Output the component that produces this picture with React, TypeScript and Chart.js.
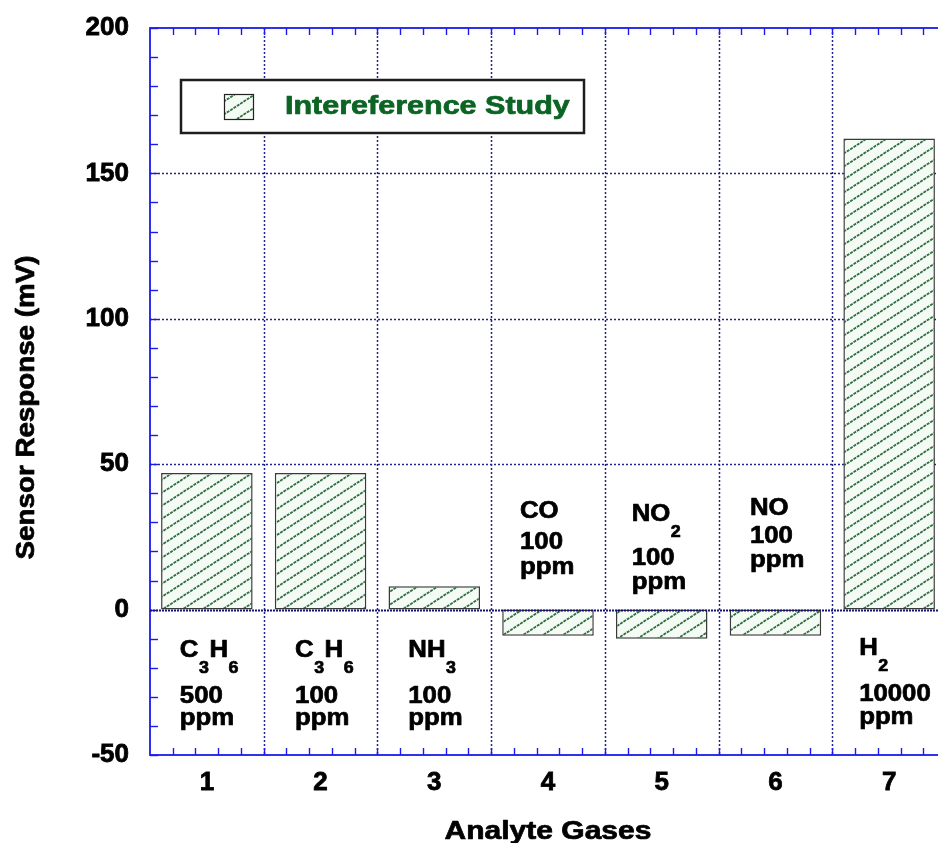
import React, { useEffect, useRef } from "react";
import { Chart, registerables } from "chart.js";

Chart.register(...registerables);

// ---------- data ----------
const categories = ["1", "2", "3", "4", "5", "6", "7"];
const responses = [47, 47, 8, -9, -10, -9, 162];
const yMin = -50;
const yMax = 200;
const yStep = 50;
const yMinorStep = 10;
const seriesName = "Intereference Study";
const xTitle = "Analyte Gases";
const yTitle = "Sensor Response (mV)";
// chemical formula parts: [main text, subscript]
const gasFormulas: [string, string][][] = [
  [["C", "3"], ["H", "6"]],
  [["C", "3"], ["H", "6"]],
  [["NH", "3"]],
  [["CO", ""]],
  [["NO", "2"]],
  [["NO", ""]],
  [["H", "2"]],
];
const gasConcentrations = ["500", "100", "100", "100", "100", "100", "10000"];
const concUnit = "ppm";

// ---------- styles / layout ----------
const FONT = '"Liberation Sans", Arial, sans-serif';
const AXIS_BLUE = "#1a1af0";
const GRID_NAVY = "#23238c";
// per category: x offset of text from category centre (px), baselines relative to zero line (px)
const ANN_LAYOUT = [
  { dx: -27, y: [47.5, 93.5, 115.5] },
  { dx: -25.5, y: [47.5, 93.5, 115.5] },
  { dx: -26, y: [47.5, 93.5, 115.5] },
  { dx: -28, y: [-92, -61, -36] },
  { dx: -30, y: [-89, -45, -21] },
  { dx: -25.5, y: [-95, -67, -43] },
  { dx: -30, y: [45.5, 91.5, 114] },
];

function makePattern(ctx: CanvasRenderingContext2D): CanvasPattern | string {
  const w = 20;
  const h = 13;
  const c = document.createElement("canvas");
  c.width = w;
  c.height = h;
  const g = c.getContext("2d");
  if (!g) return "#f4faf4";
  g.fillStyle = "#f4faf4";
  g.fillRect(0, 0, w, h);
  g.strokeStyle = "#336d42";
  g.lineWidth = 1.8;
  g.setLineDash([3, 1]);
  for (const k of [-1, 0, 1]) {
    g.beginPath();
    g.moveTo(-w, 2 * h + k * h);
    g.lineTo(2 * w, -h + k * h);
    g.stroke();
  }
  return ctx.createPattern(c, "repeat") || "#f4faf4";
}

function line(ctx: CanvasRenderingContext2D, x1: number, y1: number, x2: number, y2: number) {
  ctx.beginPath();
  ctx.moveTo(x1, y1);
  ctx.lineTo(x2, y2);
  ctx.stroke();
}

// draws bold text stretched along its direction by sx; returns drawn width
function stretchText(
  ctx: CanvasRenderingContext2D,
  text: string,
  x: number,
  y: number,
  size: number,
  sx: number,
  align: "left" | "center" = "left"
): number {
  ctx.save();
  ctx.font = `bold ${size}px ${FONT}`;
  const w = ctx.measureText(text).width * sx;
  const left = align === "center" ? x - w / 2 : x;
  ctx.translate(left, y);
  ctx.scale(sx, 1);
  ctx.textAlign = "left";
  ctx.textBaseline = "alphabetic";
  ctx.strokeStyle = ctx.fillStyle as string;
  ctx.lineWidth = 0.7;
  ctx.lineJoin = "round";
  ctx.strokeText(text, 0, 0);
  ctx.fillText(text, 0, 0);
  ctx.restore();
  return w;
}

const framePlugin = {
  id: "framePlugin",
  beforeDatasetsDraw(chart: any) {
    const { ctx, chartArea: a, scales } = chart;
    const x = scales.x;
    const y = scales.y;
    ctx.save();
    // dotted grid
    ctx.strokeStyle = GRID_NAVY;
    ctx.lineWidth = 1.5;
    ctx.setLineDash([2, 2]);
    for (let i = 1; i < categories.length; i++) {
      const px = Math.round((x.getPixelForValue(i - 1) + x.getPixelForValue(i)) / 2) + 0.5;
      line(ctx, px, a.top, px, a.bottom);
    }
    for (let v = yMin + yStep; v < yMax; v += yStep) {
      if (v === 0) continue;
      const py = Math.round(y.getPixelForValue(v)) + 0.5;
      line(ctx, a.left, py, a.right, py);
    }
    ctx.setLineDash([]);
    // frame
    ctx.strokeStyle = AXIS_BLUE;
    ctx.lineWidth = 1.8;
    ctx.strokeRect(a.left, a.top, a.right - a.left, a.bottom - a.top);
    // minor ticks on y
    ctx.lineWidth = 1.4;
    for (let v = yMin; v <= yMax; v += yMinorStep) {
      const py = Math.round(y.getPixelForValue(v)) + 0.5;
      line(ctx, a.left, py, a.left + 8, py);
      line(ctx, a.right, py, a.right - 8, py);
    }
    // minor ticks on x (top & bottom)
    const cw = x.getPixelForValue(1) - x.getPixelForValue(0);
    for (let k = 1; k < categories.length * 5; k++) {
      const px = Math.round(a.left + k * cw * 0.2) + 0.5;
      line(ctx, px, a.top, px, a.top + 7);
      line(ctx, px, a.bottom, px, a.bottom - 7);
    }
    ctx.restore();
  },
  afterDatasetsDraw(chart: any) {
    const { ctx, chartArea: a, scales } = chart;
    const x = scales.x;
    const y = scales.y;
    const y0 = y.getPixelForValue(0);
    ctx.save();
    // zero line
    ctx.strokeStyle = "#14146e";
    ctx.lineWidth = 2;
    ctx.setLineDash([2, 1]);
    line(ctx, a.left, Math.round(y0) + 0.5, a.right, Math.round(y0) + 0.5);
    ctx.setLineDash([]);

    // annotations
    ctx.fillStyle = "#000";
    categories.forEach((_, i) => {
      const lay = ANN_LAYOUT[i];
      const lx = x.getPixelForValue(i) + lay.dx;
      let cx = lx;
      const b0 = y0 + lay.y[0];
      for (const [main, sub] of gasFormulas[i]) {
        cx += stretchText(ctx, main, cx, b0, 23, 1.12);
        if (sub) {
          const sw = stretchText(ctx, sub, cx + 0.5, b0 + 16, 17, 1.05);
          cx += 0.5 + sw + 0.5;
        }
      }
      stretchText(ctx, gasConcentrations[i], lx, y0 + lay.y[1], 23, 1.12);
      stretchText(ctx, concUnit, lx, y0 + lay.y[2], 23, 1.12);
    });

    // legend box
    const bx = 181, by = 80, bw = 403, bh = 53;
    ctx.fillStyle = "#ffffff";
    ctx.fillRect(bx, by, bw, bh);
    ctx.strokeStyle = "#1e1e1e";
    ctx.lineWidth = 2.5;
    ctx.strokeRect(bx, by, bw, bh);
    const ds = chart.data.datasets[0];
    ctx.fillStyle = ds.backgroundColor;
    ctx.fillRect(224, 94, 29, 25);
    ctx.strokeStyle = "#222";
    ctx.lineWidth = 1.2;
    ctx.strokeRect(224.5, 94.5, 29, 25);
    ctx.fillStyle = "#0b6423";
    stretchText(ctx, ds.label, 285, 114, 25, 1.22);

    ctx.restore();
  },
  afterDraw(chart: any) {
    const { ctx, chartArea: a } = chart;
    ctx.save();
    ctx.fillStyle = "#000";
    stretchText(ctx, xTitle, (a.left + a.right) / 2, 839, 25, 1.2, "center");
    ctx.translate(33.5, 407.5);
    ctx.rotate(-Math.PI / 2);
    stretchText(ctx, yTitle, 0, 0, 25, 1.11, "center");
    ctx.restore();
  },
};

export default function App() {
  const ref = useRef<HTMLCanvasElement | null>(null);
  useEffect(() => {
    const canvas = ref.current;
    if (!canvas) return;
    const ctx = canvas.getContext("2d");
    if (!ctx) return;
    const pattern = makePattern(ctx);
    const chart = new Chart(canvas, {
      type: "bar",
      data: {
        labels: categories,
        datasets: [
          {
            label: seriesName,
            data: responses,
            backgroundColor: pattern as any,
            borderColor: "#3a3a3a",
            borderWidth: 1.5,
            borderSkipped: false,
            barPercentage: 0.805,
            categoryPercentage: 1,
          },
        ],
      },
      options: {
        responsive: false,
        animation: false,
        events: [],
        layout: { padding: { top: 28, right: 14, left: 0, bottom: 0 } },
        plugins: { legend: { display: false }, tooltip: { enabled: false } },
        scales: {
          x: {
            type: "category",
            offset: true,
            grid: { display: false, drawTicks: false },
            border: { display: false },
            ticks: {
              color: "#000",
              font: { family: FONT, size: 26, weight: "bold" },
              textStrokeColor: "#000",
              textStrokeWidth: 0.8,
              padding: 12,
              maxRotation: 0,
              autoSkip: false,
            },
            afterFit(s: any) {
              s.height = 88;
              s.paddingLeft = 0;
              s.paddingRight = 0;
            },
          },
          y: {
            min: yMin,
            max: yMax,
            grid: { display: false, drawTicks: false },
            border: { display: false },
            ticks: {
              stepSize: yStep,
              color: "#000",
              font: { family: FONT, size: 26, weight: "bold" },
              textStrokeColor: "#000",
              textStrokeWidth: 0.8,
              padding: 21,
            },
            afterFit(s: any) {
              s.width = 150;
              s.paddingTop = 0;
              s.paddingBottom = 0;
            },
          },
        },
      } as any,
      plugins: [framePlugin],
    });
    return () => chart.destroy();
  }, []);

  return (
    <div
      style={{
        position: "fixed",
        left: 0,
        top: 0,
        width: 938,
        height: 843,
        overflow: "hidden",
        background: "#fff",
      }}
    >
      <canvas ref={ref} width={960} height={843} style={{ display: "block" }} />
    </div>
  );
}
